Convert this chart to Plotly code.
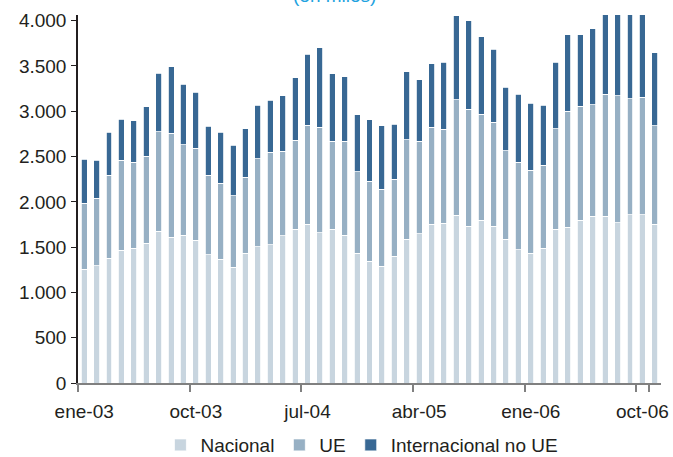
import plotly.graph_objects as go

months = ["ene", "feb", "mar", "abr", "may", "jun", "jul", "ago", "sep", "oct", "nov", "dic"]
categories = [f"{m}-{y:02d}" for y in (3, 4, 5, 6) for m in months][:47]

nacional = [1258, 1295, 1379, 1468, 1490, 1541, 1677, 1611, 1630, 1574,
            1416, 1365, 1276, 1435, 1504, 1526, 1626, 1699, 1751, 1659,
            1696, 1630, 1435, 1346, 1291, 1398, 1589, 1648, 1755, 1766,
            1854, 1733, 1799, 1733, 1585, 1471, 1435, 1486, 1696, 1718,
            1799, 1843, 1839, 1769, 1858, 1858, 1755]
ue = [725, 743, 916, 989, 949, 964, 1097, 1144, 1000, 1019,
      879, 842, 791, 838, 972, 1020, 934, 983, 1093, 1166,
      975, 1041, 897, 879, 850, 850, 1096, 1019, 1070, 1037,
      1273, 1287, 1170, 1147, 979, 964, 912, 916, 1111, 1280,
      1254, 1229, 1350, 1402, 1280, 1298, 1085]
internacional_no_ue = [489, 419, 475, 453, 456, 545, 647, 736, 666, 615,
                       541, 559, 560, 534, 592, 574, 611, 688, 783, 876,
                       746, 713, 629, 681, 699, 607, 751, 681, 699, 740,
                       927, 982, 853, 806, 699, 754, 739, 666, 736, 846,
                       791, 838, 1061, 1029, 1012, 1094, 809]

tick_labels = ["ene-03", "oct-03", "jul-04", "abr-05", "ene-06", "oct-06"]
y_ticks = [0, 500, 1000, 1500, 2000, 2500, 3000, 3500, 4000]

colors = {"Nacional": "#C8D5DF", "UE": "#97B0C4", "Internacional no UE": "#386894"}
FONT = "Liberation Sans, Arial, sans-serif"

fig = go.Figure()
for name, vals in [("Nacional", nacional), ("UE", ue), ("Internacional no UE", internacional_no_ue)]:
    fig.add_trace(go.Bar(
        x=categories, y=vals, name=name,
        marker=dict(color=colors[name], line=dict(color="white", width=0.8)),
    ))

fig.update_layout(
    barmode="stack",
    bargap=0.52,
    width=673, height=457,
    margin=dict(l=78, r=12, t=15, b=74, autoexpand=False),
    paper_bgcolor="white", plot_bgcolor="white",
    separators=",.",
    font=dict(family=FONT, size=19, color="#231F20"),
    showlegend=True,
    legend=dict(orientation="h", x=0.487, xanchor="center", y=-0.117, yanchor="top",
                font=dict(size=19), itemwidth=30, traceorder="normal"),
    annotations=[dict(text="(en miles)", xref="paper", yref="paper", x=0.44, y=1.020,
                      xanchor="center", yanchor="bottom", showarrow=False,
                      font=dict(size=19, color="#1FA3E0", family=FONT))],
)

fig.update_xaxes(
    type="category", categoryorder="array", categoryarray=categories,
    tickmode="array", tickvals=tick_labels, ticktext=tick_labels, tickangle=0,
    tickson="boundaries", ticks="outside", ticklen=7, tickwidth=1.5, tickcolor="#808080",
    showline=True, linecolor="#808080", linewidth=2, showgrid=False,
    ticklabelstandoff=10, range=[-0.5, 46.5], automargin=False,
)
fig.update_yaxes(
    range=[0, 4063], tickvals=y_ticks, tickformat=",d",
    ticks="outside", ticklen=5, tickwidth=1, tickcolor="#231F20",
    showline=True, linecolor="#231F20", linewidth=1.5, showgrid=False, zeroline=False,
    ticklabelstandoff=1, automargin=False,
)

fig.write_html("out.html", config={"displayModeBar": False},
               post_script="document.body.style.margin='0';")
